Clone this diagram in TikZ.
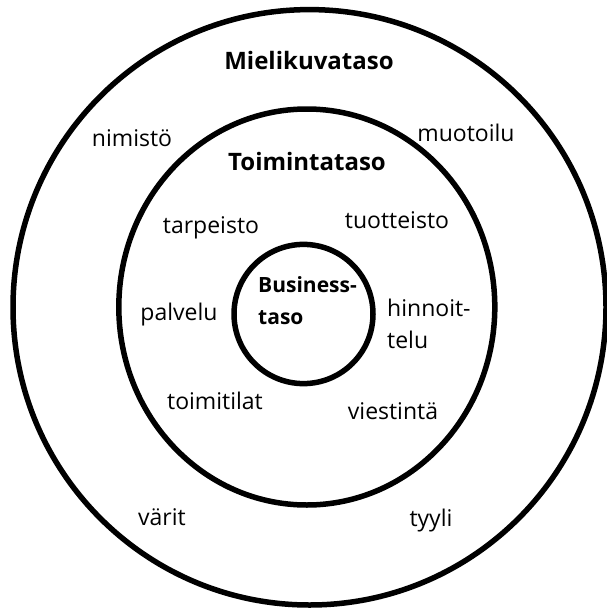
\documentclass[tikz,border=0pt]{standalone}
\usepackage{fontspec}
\setmainfont{Open Sans}

\begin{document}
\begin{tikzpicture}[x=1pt, y=-1pt,
    lbl/.style={anchor=base, inner sep=0pt, font=\fontsize{23}{28}\selectfont},
    hd/.style={anchor=base, inner sep=0pt, font=\fontsize{24}{28}\selectfont\bfseries},
    ring/.style={line width=5.5pt}]

    \useasboundingbox (0,0) rectangle (606,610);

    % rings
    \draw[ring] (309.5,307.3) ellipse [x radius=296.5, y radius=297.7];
    \draw[ring] (306.8,307) ellipse [x radius=188, y radius=198];
    \draw[ring] (303.5,314) ellipse [x radius=69.5, y radius=69.6];

    % headings
    \node (miel) at (309,69.6) [hd] {Mielikuvataso};
    \node (toim) at (307,170) [hd] {Toimintataso};
    \node (bus1) at (258,292) [hd, anchor=base west, font=\fontsize{21}{26}\selectfont\bfseries] {Business-};
    \node (bus2) at (258,324) [hd, anchor=base west, font=\fontsize{21}{26}\selectfont\bfseries] {taso};

    % outer ring
    \foreach \n/\x/\y/\t in {nim/132/146/nimistö, muo/466/141/muotoilu,
                             var/162/525/värit, tyy/431/526/tyyli}
             { \node (\n) at (\x,\y) [lbl] {\t};}

    % middle ring
    \foreach \n/\x/\y/\t in {tar/211/233/tarpeisto, tuo/397/228/tuotteisto,
                             pal/179/320/palvelu, tmt/215/409/toimitilat,
                             vie/393/419/viestintä}
             { \node (\n) at (\x,\y) [lbl] {\t};}
    \node (hin1) at (387,316) [lbl, anchor=base west] {hinnoit-};
    \node (hin2) at (387,348) [lbl, anchor=base west] {telu};

\end{tikzpicture}
\end{document}
